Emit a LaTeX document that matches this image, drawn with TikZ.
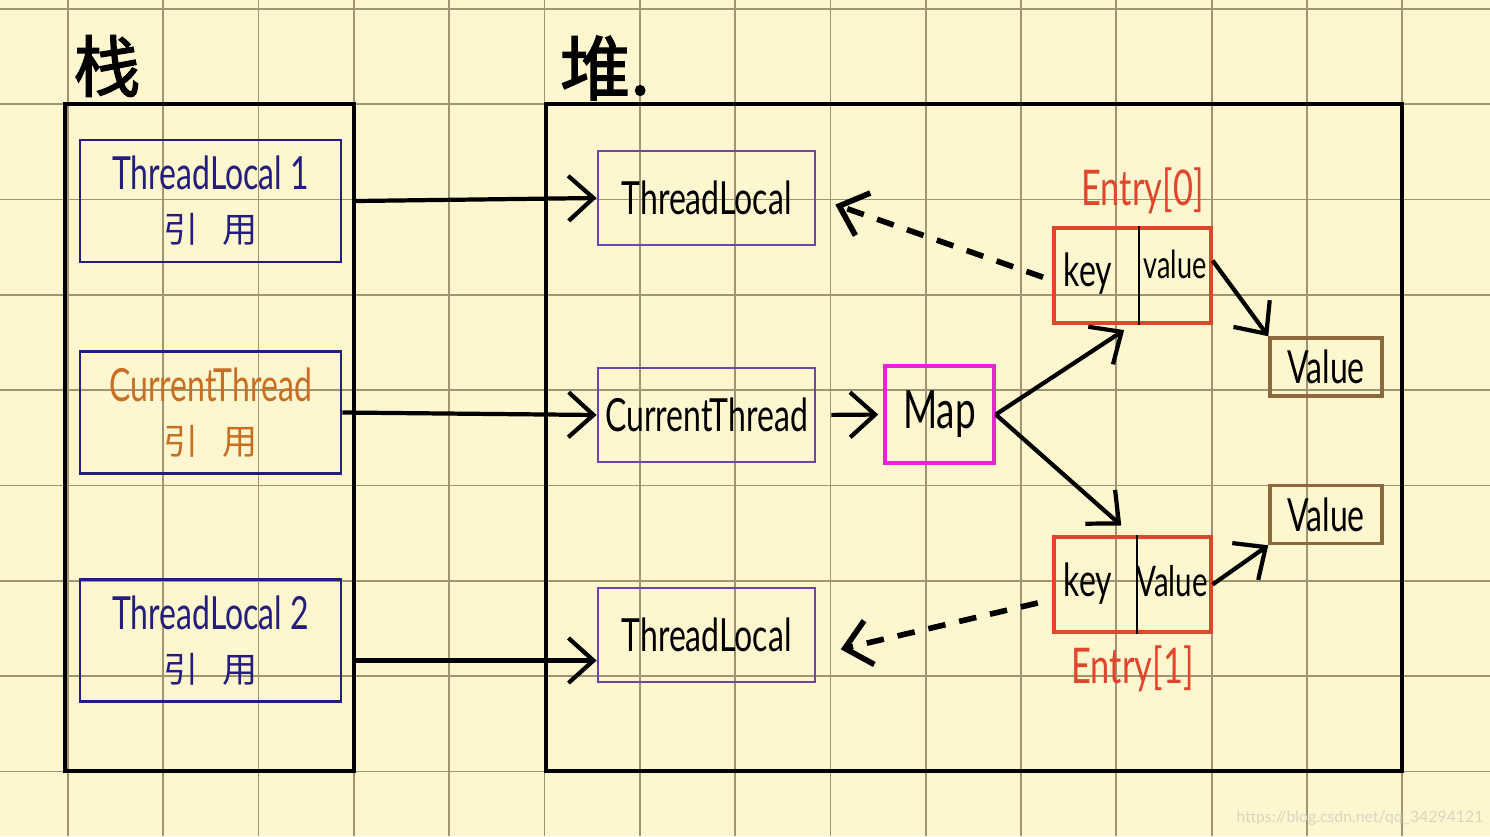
\documentclass[tikz,border=0pt]{standalone}
\usepackage{fontspec}
\usetikzlibrary{positioning,arrows.meta,calc}
\newfontfamily\hand[FakeStretch=0.7]{Lato}
\newfontfamily\plain{Lato}
\newfontfamily\cjk{Noto Sans CJK SC}
\newfontfamily\cjkhead[FakeBold=2]{Noto Sans CJK SC}
\definecolor{paper}{RGB}{253,246,206}
\definecolor{gridink}{RGB}{160,148,115}
\definecolor{navyink}{RGB}{35,30,125}
\definecolor{orangeink}{RGB}{200,110,35}
\definecolor{purpleink}{RGB}{110,70,170}
\definecolor{magentaink}{RGB}{225,40,205}
\definecolor{redink}{RGB}{225,70,45}
\definecolor{brownink}{RGB}{140,105,60}
\definecolor{markink}{RGB}{218,214,196}

\begin{document}
\begin{tikzpicture}[
  every node/.style={font=\hand\fontsize{13}{15}\selectfont},
  gridline/.style={draw=gridink,line width=0.5pt},
  frame/.style={draw=black,line width=1pt,inner sep=0pt},
  refbox/.style={draw=navyink,line width=0.8pt,minimum width=2.61cm,minimum height=1.22cm,align=center,inner sep=0pt,text=navyink},
  objbox/.style={draw=purpleink,line width=0.8pt,minimum width=2.17cm,minimum height=0.94cm,inner sep=0pt},
  entrybox/.style={draw=redink,line width=0.9pt,minimum width=1.57cm,minimum height=0.95cm,inner sep=0pt},
  valbox/.style={draw=brownink,line width=1pt,minimum width=1.12cm,minimum height=0.58cm,inner sep=0pt},
  arr/.style={-{Straight Barb[length=2.5mm,width=4.5mm]},line width=1.2pt},
  weak/.style={arr,dash pattern=on 5pt off 4pt,line width=1.6pt},
  >=Stealth ]
  \useasboundingbox (0,0) rectangle (14.9,8.36);
  \fill[paper] (0,0) rectangle (14.9,8.36);
  \foreach \i in {0,...,14} \draw[gridline] ({0.68+0.953*\i},0) -- ++(0,8.36);
  \foreach \j in {0,...,8} \draw[gridline] (0,{8.27-0.953*\j}) -- ++(14.9,0);

  % stack and heap
  \node[frame,minimum width=2.89cm,minimum height=6.67cm] (stack) at (2.095,3.985) {};
  \node[frame,minimum width=8.56cm,minimum height=6.67cm] (heap) at (9.74,3.985) {};
  \node[font=\cjkhead\fontsize{19}{21}\selectfont] (stacklbl) at (1.07,7.7) {栈};
  \node[font=\cjkhead\fontsize{20}{22}\selectfont] (heaplbl) at (6.05,7.68) {堆.};

  % references on the stack
  \node[refbox] (tl1ref) at (2.105,6.35) {ThreadLocal 1\\ {\cjk\fontsize{10}{12}\selectfont 引\hspace{0.7em}用}};
  \node[refbox,text=orangeink] (ctref) at (2.105,4.235) {CurrentThread\\ {\cjk\fontsize{10}{12}\selectfont 引\hspace{0.7em}用}};
  \node[refbox] (tl2ref) at (2.105,1.955) {ThreadLocal 2\\ {\cjk\fontsize{10}{12}\selectfont 引\hspace{0.7em}用}};

  % objects on the heap
  \node[objbox] (tlA) at (7.065,6.38) {ThreadLocal};
  \node[objbox] (ct) at (7.065,4.21) {CurrentThread};
  \node[objbox] (tlB) at (7.065,2.01) {ThreadLocal};
  \node[draw=magentaink,line width=1pt,minimum width=1.09cm,minimum height=0.97cm,inner sep=0pt,
        font=\hand\fontsize{15}{17}\selectfont] (map) at (9.395,4.215) {Map};

  \node[entrybox] (e0) at (11.325,5.605) {};
  \node[entrybox] (e1) at (11.325,2.515) {};
  \draw[line width=0.5pt] ($(e0.north west)!0.54!(e0.north east)$) -- ($(e0.south west)!0.54!(e0.south east)$);
  \draw[line width=0.5pt] ($(e1.north west)!0.53!(e1.north east)$) -- ($(e1.south west)!0.53!(e1.south east)$);
  \node (k0) at (10.88,5.62) {key};
  \node[font=\hand\fontsize{11}{13}\selectfont] (v0) at (11.75,5.72) {value};
  \node (k1) at (10.88,2.52) {key};
  \node[font=\hand\fontsize{12}{14}\selectfont] (v1) at (11.72,2.55) {Value};
  \node[text=redink,font=\hand\fontsize{14}{16}\selectfont,above=0cm of e0,xshift=1mm] (e0lbl) {Entry[0]};
  \node[text=redink,font=\hand\fontsize{14}{16}\selectfont,below=0cm of e1] (e1lbl) {Entry[1]};

  \node[valbox] (val0) at (13.26,4.69) {Value};
  \node[valbox] (val1) at (13.26,3.215) {Value};

  % connectors
  \draw[arr] (tl1ref.east -| stack.east) -- (tlA.west);
  \draw[arr] (ctref.east) -- (ct.west);
  \draw[arr] ([yshift=-2mm]tl2ref.east -| stack.east) -- ([yshift=-2mm]tl2ref.east -| tlB.west);
  \draw[arr,shorten <=1.5mm,shorten >=0.5mm] (ct.east) -- (map.west);
  \draw[arr,shorten >=1mm] (map.east) -- (e0.south);
  \draw[arr,shorten >=1.5mm] (map.east) -- (e1.north);
  \draw[arr] ([yshift=1.5mm]e0.east) -- (val0.north west);
  \draw[arr] (e1.east) -- (val1.south west);
  \draw[weak,shorten <=1mm,shorten >=2mm] ([yshift=-0.5mm]e0.west) -- (tlA.east);
  \draw[weak,shorten <=1.5mm,shorten >=2.5mm] ([yshift=-1.5mm]e1.west) -- ([yshift=-2mm]tlB.east);

  \node[text=markink,font=\plain\fontsize{4.5}{5}\selectfont] (mark) at (13.6,0.18) {https://blog.csdn.net/qq\_34294121};
\end{tikzpicture}
\end{document}
